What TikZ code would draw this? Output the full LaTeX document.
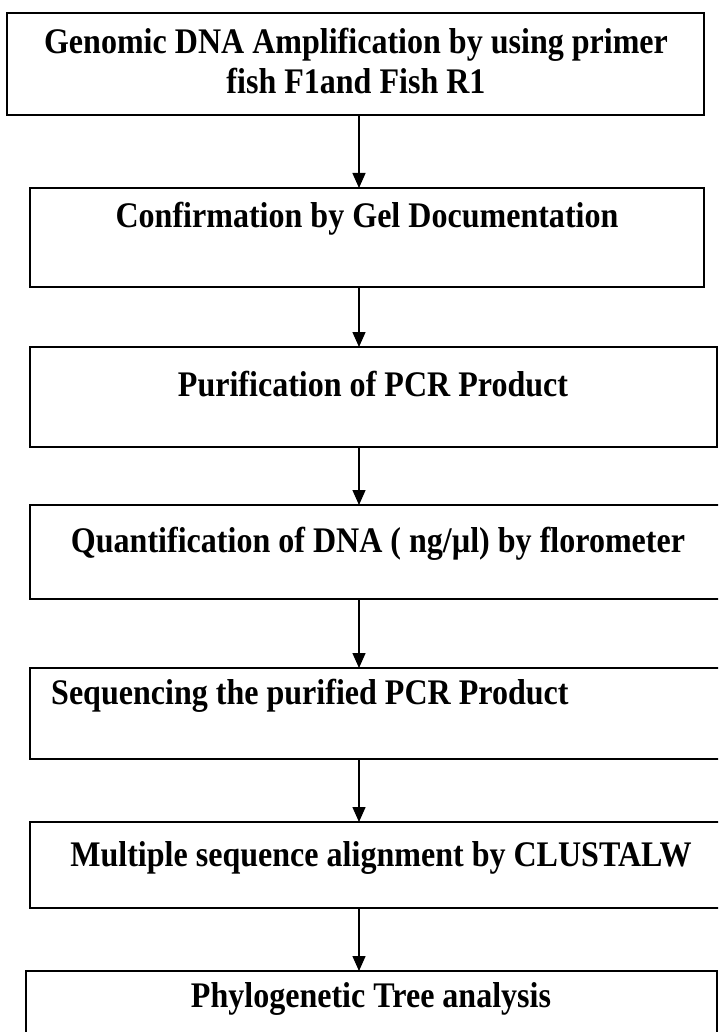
\documentclass[tikz,border=0pt]{standalone}
\usepackage{fontspec}
\setmainfont{Liberation Serif}
\newfontfamily\stagefont{Liberation Serif}[FakeStretch=0.89]
\usetikzlibrary{arrows.meta}

\begin{document}
\begin{tikzpicture}[x=1pt,y=-1pt,
  stage/.style={draw,line width=1.8pt,anchor=north west,inner sep=0pt,outer sep=0pt},
  caption/.style={inner sep=0pt,font=\stagefont\fontsize{36}{40}\selectfont\bfseries,align=center},
  flow/.style={line width=1.4pt,-{Triangle[width=13pt,length=15pt]}}]
\useasboundingbox (0,0) rectangle (718,1032);
\clip (0,0) rectangle (718,1032);
\coordinate (axis) at (359,0);
% boxes (the lower ones run off the page on the right)
\node[stage,minimum width=697pt,minimum height=102pt] (b1) at (7,13) {};
\node[stage,minimum width=674pt,minimum height=99pt] (b2) at (30,188) {};
\node[stage,minimum width=687pt,minimum height=100pt] (b3) at (30,347) {};
\node[stage,minimum width=698pt,minimum height=94pt] (b4) at (30,505) {};
\node[stage,minimum width=698pt,minimum height=91pt] (b5) at (30,668) {};
\node[stage,minimum width=702pt,minimum height=86pt] (b6) at (30,822) {};
\node[stage,minimum width=691pt,minimum height=90pt] (b7) at (26,971) {};
% texts
\node[caption] (t1) at (356,61) {Genomic DNA Amplification by using primer\\fish F1and Fish R1};
\node[caption] (t2) at (367,219) {Confirmation by Gel Documentation};
\node[caption] (t3) at (373,384) {Purification of PCR Product};
\node[caption] (t4) at (378,544) {Quantification of DNA ( ng/µl) by florometer};
\node[caption,anchor=west] (t5) at (51,696) {Sequencing the purified PCR Product};
\node[caption] (t6) at (381,858) {Multiple sequence alignment by CLUSTALW};
\node[caption] (t7) at (371,999) {Phylogenetic Tree analysis};
% arrows
\draw[flow] (b1.south -| axis) -- (b2.north -| axis);
\draw[flow] (b2.south -| axis) -- (b3.north -| axis);
\draw[flow] (b3.south -| axis) -- (b4.north -| axis);
\draw[flow] (b4.south -| axis) -- (b5.north -| axis);
\draw[flow] (b5.south -| axis) -- (b6.north -| axis);
\draw[flow] (b6.south -| axis) -- (b7.north -| axis);
\end{tikzpicture}
\end{document}
